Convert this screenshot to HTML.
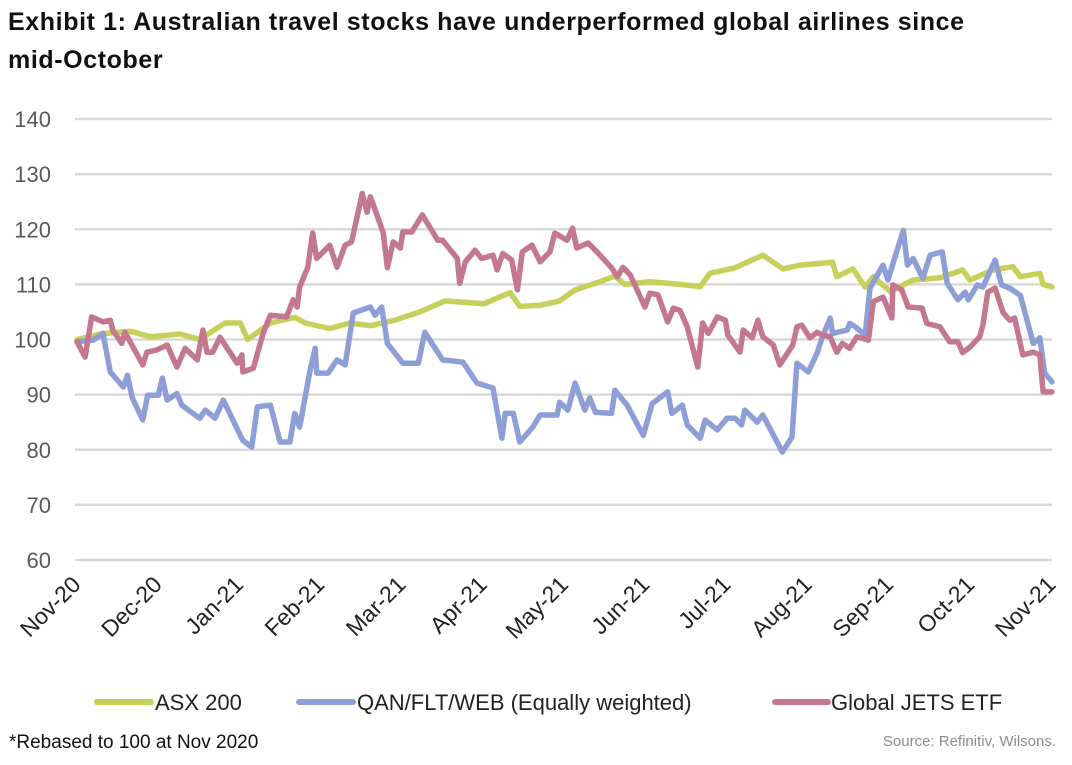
<!DOCTYPE html>
<html><head><meta charset="utf-8"><style>
body{margin:0;background:#fff;font-family:"Liberation Sans",sans-serif;}
#wrap{position:relative;width:1072px;height:765px;overflow:hidden;}
</style></head><body>
<div id="wrap">
<svg id="svg" width="1072" height="765" xmlns="http://www.w3.org/2000/svg">
<text x="8" y="30" font-size="25" font-weight="bold" fill="#111" letter-spacing="0.6">Exhibit 1: Australian travel stocks have underperformed global airlines since</text>
<text x="8" y="68" font-size="25" font-weight="bold" fill="#111" letter-spacing="0.6">mid-October</text>
<g id="grid"></g><g id="ylab"></g><g id="xlab"></g><g id="lines"></g>
<g>
<line x1="97" y1="702" x2="151" y2="702" stroke="#c5d15a" stroke-width="6" stroke-linecap="round"/>
<text x="155" y="710" font-size="22" fill="#222">ASX 200</text>
<line x1="299" y1="702" x2="353" y2="702" stroke="#8e9fd8" stroke-width="6" stroke-linecap="round"/>
<text x="357" y="710" font-size="22" fill="#222">QAN/FLT/WEB (Equally weighted)</text>
<line x1="775" y1="702" x2="828" y2="702" stroke="#c47890" stroke-width="6" stroke-linecap="round"/>
<text x="831" y="710" font-size="22" fill="#222">Global JETS ETF</text>
</g>
<text x="9" y="748" font-size="19" fill="#111">*Rebased to 100 at Nov 2020</text>
<text x="1056" y="746" font-size="15" fill="#8c8c8c" text-anchor="end">Source: Refinitiv, Wilsons.</text>
</svg>
</div>
<script>
const months=["Nov-20","Dec-20","Jan-21","Feb-21","Mar-21","Apr-21","May-21","Jun-21","Jul-21","Aug-21","Sep-21","Oct-21","Nov-21"];
const yTicks=[60,70,80,90,100,110,120,130,140];
const asxT=[0,.28,.65,.90,1.27,1.51,1.82,2.01,2.10,2.38,2.68,2.81,3.11,3.36,3.61,3.91,4.22,4.53,5.01,5.33,5.45,5.70,5.94,6.13,6.44,6.62,6.74,7.05,7.42,7.67,7.79,8.10,8.44,8.69,8.90,9.30,9.35,9.55,9.70,9.80,10.01,10.29,10.62,10.90,10.99,11.27,11.52,11.61,11.85,11.89,12];
const asxV=[100,101,101.5,100.5,101,100,103,103,100,103,104,103,102,103,102.5,103.5,105,107,106.5,108.5,106,106.2,107,109,110.5,111.5,110,110.5,110,109.6,112,113,115.3,112.8,113.5,114,111.4,112.8,109.5,111.4,108.7,110.8,111.2,112.6,110.8,112.6,113.2,111.4,112,110,109.5];
const qanT=[0,.20,.32,.41,.57,.62,.68,.81,.87,1.0,1.05,1.11,1.23,1.29,1.51,1.58,1.70,1.80,2.04,2.15,2.22,2.38,2.50,2.62,2.68,2.74,2.87,2.93,2.95,3.09,3.20,3.30,3.40,3.61,3.67,3.75,3.82,4.01,4.20,4.28,4.50,4.75,4.92,5.12,5.23,5.27,5.37,5.45,5.61,5.70,5.91,5.94,6.04,6.13,6.25,6.31,6.38,6.58,6.62,6.77,6.97,7.08,7.27,7.32,7.45,7.51,7.67,7.73,7.88,8.0,8.10,8.18,8.22,8.37,8.44,8.68,8.80,8.86,9.0,9.11,9.17,9.27,9.30,9.48,9.51,9.58,9.70,9.76,9.92,9.98,10.17,10.22,10.29,10.41,10.50,10.65,10.71,10.84,10.93,10.97,11.08,11.15,11.30,11.38,11.48,11.61,11.77,11.85,11.91,12];
const qanV=[99.6,99.9,101.1,94.1,91.4,93.5,89.4,85.4,89.9,89.9,93,89,90.2,88.1,85.7,87.2,85.7,89,81.7,80.5,87.8,88.1,81.4,81.4,86.6,84.1,94.5,98.4,93.9,93.9,96.3,95.4,104.8,105.9,104.4,105.9,99.3,95.7,95.7,101.3,96.3,95.9,92.1,91.2,82.1,86.6,86.6,81.4,84.1,86.3,86.3,88.6,87.2,92.1,87.2,89.4,86.8,86.6,90.8,88.1,82.6,88.4,90.5,86.6,88.1,84.5,82.1,85.4,83.6,85.7,85.7,84.5,87.2,85,86.3,79.6,82.3,95.7,94.1,97.6,100.3,103.9,101.1,101.7,102.9,102.3,100.8,109.3,113.5,110.8,119.8,113.5,114.7,111.1,115.3,115.9,110.2,107.2,108.6,107.2,109.9,109.5,114.4,109.9,109.3,108,99.3,100.3,93.9,92.3];
const jetT=[0,.10,.18,.32,.41,.44,.55,.59,.69,.81,.86,.98,1.11,1.23,1.33,1.48,1.55,1.60,1.67,1.76,1.97,2.03,2.04,2.17,2.29,2.38,2.58,2.66,2.71,2.74,2.84,2.90,2.95,3.11,3.20,3.30,3.38,3.51,3.57,3.61,3.67,3.77,3.82,3.89,3.98,4.01,4.12,4.25,4.44,4.50,4.68,4.71,4.78,4.90,4.98,5.12,5.17,5.24,5.35,5.42,5.48,5.60,5.70,5.82,5.88,6.03,6.10,6.15,6.29,6.40,6.58,6.65,6.72,6.81,6.99,7.05,7.15,7.27,7.34,7.42,7.51,7.64,7.70,7.77,7.88,7.98,8.01,8.16,8.20,8.31,8.38,8.44,8.57,8.65,8.81,8.86,8.92,9.02,9.11,9.17,9.27,9.35,9.42,9.51,9.60,9.74,9.80,9.92,10.03,10.04,10.15,10.23,10.40,10.46,10.62,10.74,10.84,10.90,10.99,11.11,11.15,11.21,11.30,11.40,11.48,11.54,11.64,11.77,11.85,11.89,12];
const jetV=[99.6,96.8,104.1,103.2,103.5,101.7,99.3,101.3,98.6,95.4,97.7,98.1,99,95,98.4,96.3,101.7,97.7,97.7,100.4,95.7,97.2,94.1,94.8,101.1,104.4,104.1,107.2,105.9,109.5,113.1,119.3,114.7,117.1,113.1,117.1,117.7,126.5,123.1,125.9,123.5,119.3,113,117.7,116.6,119.5,119.5,122.6,118,118,114.7,110.2,114.1,116.2,114.7,115.3,112.6,115.6,114.4,109,115.9,117.1,114.1,115.9,119.3,118,120.2,116.6,117.5,115.9,113,111.4,113.1,111.7,105.9,108.4,108.1,103.2,105.7,105.3,102.3,95,103,101.1,104.1,103.5,100.8,97.7,101.7,100.3,103.5,100.5,99,95.4,99,102.3,102.6,100.3,101.3,100.8,100.5,97.7,99.3,98.4,100.5,99.9,106.9,107.7,103.9,109.9,109,105.9,105.7,102.9,102.3,99.6,99.6,97.6,98.6,100.5,102.6,108.6,109.3,104.8,103.5,103.9,97.2,97.7,97.2,90.5,90.5];

const NS="http://www.w3.org/2000/svg";
const X0=77,X1=1052,Y0=119,Y1=560;
function xS(m){return X0+(X1-X0)*m/12;}
function yS(v){return Y1-(v-60)/80*(Y1-Y0);}
function mk(tag,attrs,parent){const e=document.createElementNS(NS,tag);for(const k in attrs)e.setAttribute(k,attrs[k]);parent.appendChild(e);return e;}
const grid=document.getElementById('grid'),ylab=document.getElementById('ylab'),xlab=document.getElementById('xlab'),lines=document.getElementById('lines');
yTicks.forEach(v=>{
  const l=mk('line',{x1:75,x2:X1,y1:yS(v),y2:yS(v),stroke:'#d9d9d9','stroke-width':2.5},grid);
  
  
  const t=mk('text',{x:51,y:yS(v)+8,'font-size':22,fill:'#595959','text-anchor':'end'},ylab);
  t.textContent=v;
  
  
});
months.forEach((m,i)=>{
  const x=xS(i)+5,y=586;
  const t=mk('text',{x:x,y:y,'font-size':23,fill:'#222','text-anchor':'end',transform:'rotate(-45 '+x+' '+y+')'},xlab);
  t.textContent=m;
  
  
});
function series(T,V,color,name){
  const d=T.map((t,i)=>(i?'L':'M')+xS(t).toFixed(1)+' '+yS(V[i]).toFixed(1)).join(' ');
  const p=mk('path',{d:d,fill:'none',stroke:color,'stroke-width':5.5,'stroke-linejoin':'round','stroke-linecap':'round'},lines);
  
  
}
series(asxT,asxV,'#c5d15a','asx200-line');
series(qanT,qanV,'#8e9fd8','qan-flt-web-line');
series(jetT,jetV,'#c47890','jets-etf-line');
</script>
</body></html>
